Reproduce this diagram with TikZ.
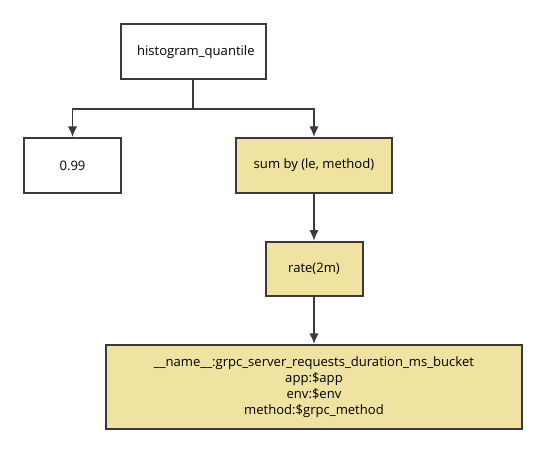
\documentclass[tikz,border=0pt]{standalone}
\usepackage{fontspec}
\setmainfont{Open Sans}
\usepackage{tikz}
\usetikzlibrary{arrows.meta}

\definecolor{boxfill}{RGB}{240,227,162}
\definecolor{boxline}{RGB}{58,58,58}

\begin{document}
\begin{tikzpicture}[x=0.75pt,y=-0.75pt]
\tikzset{block/.style = {shape=rectangle,draw=boxline,line width=1.5pt,inner sep=0pt,align=center,font=\fontsize{9.8}{12}\selectfont}}
\tikzset{hot/.style = {block,fill=boxfill}}
\tikzset{edge/.style = {-{Latex[length=8pt,width=7pt]},draw=boxline,line width=1.1pt}}
\useasboundingbox (0,0) rectangle (546,454);
% blocks
\node[block,minimum width=108.75pt,minimum height=41.25pt] (hist) at (193.2,51.7) {\hspace*{4pt}histogram\_quantile};
\node[block,minimum width=72.75pt,minimum height=41.25pt] (quant) at (72.5,165.5) {0.99};
\node[hot,minimum width=117pt,minimum height=41.25pt] (sumby) at (314,165.5) {sum by (le, method)};
\node[hot,minimum width=72.75pt,minimum height=40.5pt] (rate) at (314,268.7) {rate(2m)};
\node[hot,minimum width=312pt,minimum height=63pt] (metric) at (314,387)
{\_\_name\_\_:grpc\_server\_requests\_duration\_ms\_bucket\\ app:\$app\\ env:\$env\\ method:\$grpc\_method};
% edges
\coordinate (split) at (193.2,109);
\draw[draw=boxline,line width=1.1pt] (hist) -- (split);
\draw[edge] (split) -| (quant);
\draw[edge] (split) -| (sumby);
\draw[edge] (sumby) -- (rate);
\draw[edge] (rate) -- (metric);
\end{tikzpicture}
\end{document}
